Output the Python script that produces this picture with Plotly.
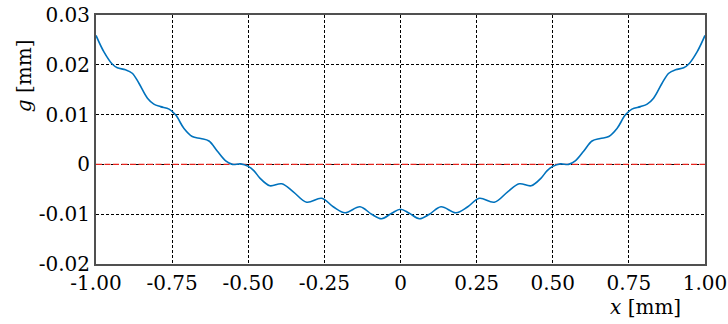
import plotly.graph_objects as go

# Gap profile g(x) [mm]
x_vals = [-1.000, -0.974, -0.946, -0.930, -0.903, -0.881, -0.859, -0.831, -0.810, -0.788,
          -0.760, -0.738, -0.711, -0.684, -0.656, -0.629, -0.602, -0.574, -0.552, -0.525,
          -0.500, -0.481, -0.461, -0.429, -0.390, -0.352, -0.308, -0.259, -0.221, -0.182,
          -0.133, -0.095, -0.062, -0.029, 0.000,
          0.029, 0.062, 0.095, 0.133, 0.182, 0.221, 0.259, 0.308, 0.352, 0.390,
          0.429, 0.461, 0.481, 0.500, 0.525, 0.552, 0.574, 0.602, 0.629, 0.656,
          0.684, 0.711, 0.738, 0.760, 0.788, 0.810, 0.831, 0.859, 0.881, 0.903,
          0.930, 0.946, 0.974, 1.000]
g_vals = [0.0259, 0.0226, 0.0201, 0.0194, 0.0190, 0.0183, 0.0163, 0.0133, 0.0121, 0.0116,
          0.0111, 0.0099, 0.0072, 0.0056, 0.0052, 0.0047, 0.0027, 0.0007, 0.0000, 0.0001,
          -0.0004, -0.0013, -0.0028, -0.0043, -0.0039, -0.0055, -0.0076, -0.0068, -0.0085, -0.0097,
          -0.0085, -0.0100, -0.0109, -0.0098, -0.0090,
          -0.0098, -0.0109, -0.0100, -0.0085, -0.0097, -0.0085, -0.0068, -0.0076, -0.0055, -0.0039,
          -0.0043, -0.0028, -0.0013, -0.0004, 0.0001, 0.0000, 0.0007, 0.0027, 0.0047, 0.0052,
          0.0056, 0.0072, 0.0099, 0.0111, 0.0116, 0.0121, 0.0133, 0.0163, 0.0183, 0.0190,
          0.0194, 0.0201, 0.0226, 0.0259]

ref_x = [-1.0, 1.0]
ref_y = [0.0, 0.0]

x_ticks = [-1.0, -0.75, -0.5, -0.25, 0.0, 0.25, 0.5, 0.75, 1.0]
x_tick_text = ["-1.00", "-0.75", "-0.50", "-0.25", "0", "0.25", "0.50", "0.75", "1.00"]
y_ticks = [-0.02, -0.01, 0.0, 0.01, 0.02, 0.03]
y_tick_text = ["-0.02", "-0.01", "0", "0.01", "0.02", "0.03"]

FONT = "DejaVu Serif"

fig = go.Figure()
fig.add_trace(go.Scatter(x=ref_x, y=ref_y, mode="lines",
                         line=dict(color="#e8251f", width=1.3, dash="6px,2.5px"),
                         hoverinfo="skip", showlegend=False))
fig.add_trace(go.Scatter(x=x_vals, y=g_vals, mode="lines",
                         line=dict(color="#0072BD", width=1.6, shape="spline", smoothing=1.0),
                         showlegend=False))

axis_common = dict(showline=True, linecolor="#505050", linewidth=2, mirror=True,
                   showgrid=True, gridcolor="black", gridwidth=1, griddash="3px,2px",
                   zeroline=False, ticks="", automargin=False,
                   tickfont=dict(family=FONT, size=20, color="black"))

fig.update_xaxes(range=[-1, 1], tickmode="array", tickvals=x_ticks, ticktext=x_tick_text,
                 **axis_common)
fig.update_yaxes(range=[-0.02, 0.03], tickmode="array", tickvals=y_ticks, ticktext=y_tick_text,
                 **axis_common)

fig.update_layout(
    width=728, height=324,
    margin=dict(l=96, r=23, t=15, b=60, autoexpand=False),
    paper_bgcolor="white", plot_bgcolor="white",
    font=dict(family=FONT, size=20, color="black"),
    annotations=[
        dict(text="<i>g</i> [mm]", xref="paper", yref="paper", x=-0.118, y=0.755,
             textangle=-90, showarrow=False, xanchor="center", yanchor="middle",
             font=dict(family=FONT, size=20, color="black")),
        dict(text="<i>x</i> [mm]", xref="paper", yref="paper", x=0.903, y=-0.173,
             showarrow=False, xanchor="center", yanchor="middle",
             font=dict(family=FONT, size=20, color="black")),
    ],
)

fig.write_html("out.html")
